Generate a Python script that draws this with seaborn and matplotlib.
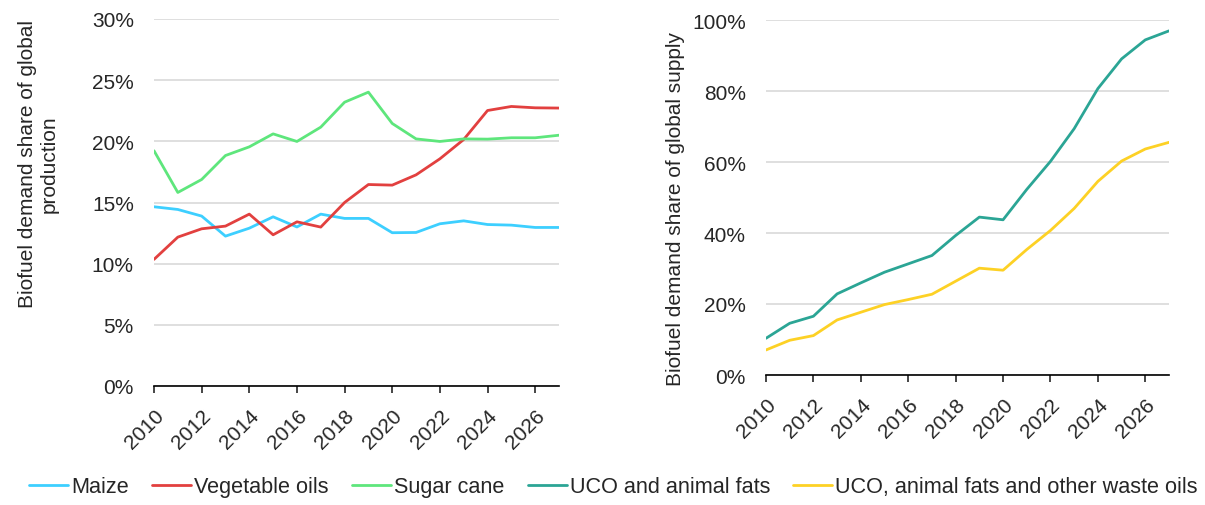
import numpy as np
import pandas as pd
import seaborn as sns
import matplotlib.pyplot as plt
from matplotlib.ticker import PercentFormatter, MultipleLocator

years = list(range(2010, 2028))

# left panel: share of global production (%)
maize = [14.65, 14.43, 13.89, 12.25, 12.9, 13.83, 13.0, 14.05, 13.7, 13.7,
         12.53, 12.55, 13.26, 13.5, 13.2, 13.15, 12.96, 12.96]
veg_oils = [10.35, 12.17, 12.85, 13.07, 14.05, 12.36, 13.42, 12.99, 15.0, 16.47,
            16.42, 17.26, 18.57, 20.15, 22.52, 22.85, 22.74, 22.72]
sugar_cane = [19.23, 15.82, 16.88, 18.84, 19.55, 20.61, 19.99, 21.16, 23.2, 24.02,
              21.46, 20.2, 19.99, 20.2, 20.18, 20.29, 20.29, 20.5]

# right panel: share of global supply (%)
uco_fats = [10.34, 14.57, 16.55, 22.85, 25.95, 28.96, 31.31, 33.66, 39.3, 44.48,
            43.72, 52.28, 60.18, 69.39, 80.68, 89.05, 94.4, 96.94]
uco_fats_waste = [7.05, 9.78, 11.1, 15.51, 17.68, 19.84, 21.25, 22.75, 26.42, 30.09,
                  29.52, 35.35, 40.71, 46.92, 54.54, 60.27, 63.66, 65.54]

left_names = ['Maize', 'Vegetable oils', 'Sugar cane']
right_names = ['UCO and animal fats', 'UCO, animal fats and other waste oils']
colors = {'Maize': '#3dcfff', 'Vegetable oils': '#e2403f', 'Sugar cane': '#5ee67c',
          'UCO and animal fats': '#2ba595', 'UCO, animal fats and other waste oils': '#fdd125'}

left = pd.DataFrame({'Year': years, 'Maize': maize, 'Vegetable oils': veg_oils,
                     'Sugar cane': sugar_cane}).melt('Year', var_name='Series', value_name='Share')
right = pd.DataFrame({'Year': years, 'UCO and animal fats': uco_fats,
                      'UCO, animal fats and other waste oils': uco_fats_waste}).melt(
    'Year', var_name='Series', value_name='Share')

sns.set_style('white')
plt.rcParams['font.family'] = ['Liberation Sans', 'DejaVu Sans']
fs = 15

fig = plt.figure(figsize=(12.05, 5.06), dpi=100)
ax1 = fig.add_axes([154 / 1205, 1 - 387 / 506, (559 - 154) / 1205, (387 - 20) / 506])
ax2 = fig.add_axes([766 / 1205, 1 - 376 / 506, (1169 - 766) / 1205, (376 - 21) / 506])

sns.lineplot(data=left, x='Year', y='Share', hue='Series', hue_order=left_names,
             palette=colors, linewidth=2, ax=ax1, legend=False)
sns.lineplot(data=right, x='Year', y='Share', hue='Series', hue_order=right_names,
             palette=colors, linewidth=2, ax=ax2, legend=False)

# label centres in pixels (x, y from top)
for ax, top, step, label, lx, ly in [
        (ax1, 30, 5, 'Biofuel demand share of global\nproduction', 38, 164),
        (ax2, 100, 20, 'Biofuel demand share of global supply', 675, 209)]:
    ax.set_xlim(2010, 2027)
    ax.set_ylim(0, top)
    ax.yaxis.set_major_locator(MultipleLocator(step))
    ax.yaxis.set_major_formatter(PercentFormatter(decimals=0))
    ax.xaxis.set_major_locator(MultipleLocator(2))
    ax.grid(axis='y', color='#d9d9d9', linewidth=1.2)
    ax.set_axisbelow(True)
    for s in ['top', 'right', 'left']:
        ax.spines[s].set_visible(False)
    ax.spines['bottom'].set_color('black')
    ax.spines['bottom'].set_linewidth(1.2)
    ax.tick_params(axis='x', bottom=True, direction='out', length=5, width=1.2,
                   labelsize=fs, pad=9)
    ax.tick_params(axis='y', left=False, labelsize=fs, pad=11)
    plt.setp(ax.get_xticklabels(), rotation=45, ha='right', rotation_mode='anchor')
    ax.set_xlabel('')
    ax.set_ylabel(label, fontsize=fs, va='center', ha='center', linespacing=1.2)
    pos = ax.get_position()
    x_ax = (lx / 1205 - pos.x0) / pos.width
    y_ax = ((1 - ly / 506) - pos.y0) / pos.height
    ax.yaxis.set_label_coords(x_ax, y_ax)

handles = [plt.Line2D([], [], color=colors[n], linewidth=2) for n in left_names + right_names]
fig.legend(handles, left_names + right_names, loc='center', ncol=5,
           bbox_to_anchor=(613.5 / 1205, 1 - 488 / 506), frameon=False, fontsize=15.6,
           handlelength=1.8, handletextpad=0.14, columnspacing=1.07, borderpad=0)

fig.savefig('out.png', dpi=100)
